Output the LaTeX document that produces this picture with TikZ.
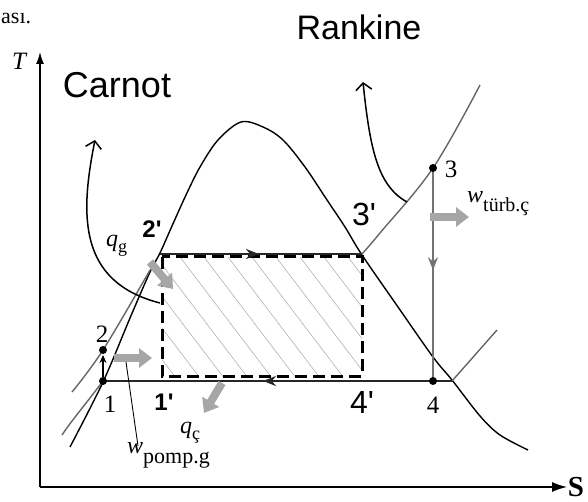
\documentclass[tikz,border=0pt]{standalone}
\usepackage{fontspec}
\setmainfont{Liberation Serif}
\newfontfamily\handfont{Liberation Sans}
\usetikzlibrary{arrows.meta,decorations.markings}
\begin{document}
\begin{tikzpicture}[x=1pt,y=-1pt,
  curve/.style={line width=1.4pt,black},
  iso/.style={line width=1.4pt,black!60},
  cyc/.style={line width=2.6pt,black!85},
  carnotbox/.style={line width=3pt,black,dash pattern=on 12pt off 6pt},
  hatchline/.style={line width=0.6pt,black!30},
  dotnode/.style={circle,fill=black,inner sep=0pt,minimum size=8pt},
  num/.style={font=\fontsize{25}{25}\selectfont,inner sep=0pt},
  handbold/.style={font=\handfont\bfseries\fontsize{24}{24}\selectfont,inner sep=0pt},
  handbig/.style={font=\handfont\fontsize{32}{32}\selectfont,inner sep=0pt},
  fatarrow/.style={line width=8pt,black!35,-{Triangle[length=13pt,width=19pt]}},
  callout/.style={line width=1.5pt,{Straight Barb[length=7pt,width=16pt]}-},
  midarrow/.style={postaction={decorate},decoration={markings,mark=at position #1 with {\arrow{Stealth[length=13pt,width=10pt]}}}},
  lbl/.style={font=\fontsize{24}{24}\selectfont,inner sep=0pt,anchor=base west}
]
\fill[white] (0,0) rectangle (588,502);
\useasboundingbox (0,0) rectangle (588,502);

% coordinates
\coordinate (origin) at (40,487);
\coordinate (tend) at (40,52);
\coordinate (send) at (567,487);
\coordinate (p1) at (103,381);
\coordinate (p2) at (103,350);
\coordinate (p3) at (433,168);
\coordinate (p4) at (433,381);
\coordinate (p2p) at (160,254);
\coordinate (p3p) at (362,254);
\coordinate (d4) at (452,381);
\coordinate (isotop) at (150,270);
\coordinate (isoend) at (72,392);
\coordinate (lowend) at (62,435);
\coordinate (shend) at (480,85);
\coordinate (lpend) at (497,330);

% hatching
\begin{scope}
\clip (162,257) rectangle (362,376);
\foreach \x in {60,84,...,372} \draw[hatchline] (\x,257) -- ++(92,121);
\end{scope}

% axes
\draw[line width=1.4pt,-{Latex[length=12pt,width=8pt]}] (origin) -- (tend);
\draw[line width=1.4pt,-{Latex[length=15pt,width=10pt]}] (origin) -- (send);

% dome
\draw[curve] plot[smooth,tension=0.55] coordinates {(70,447) (103,382) (130,318) (150,272) (160,253) (172,226) (186,195) (200,167) (218,140) (241,122) (263,127) (283,140) (305,167) (327,200) (345,227) (362,255) (398,307) (433,357) (452,380) (480,416) (500,435) (528,450)};

% isobars
\draw[iso] plot[smooth,tension=0.6] coordinates {(isotop) (p2) (isoend)};
\draw[iso] (p1) .. controls (85,405) and (72,420) .. (lowend);
\draw[iso] plot[smooth,tension=0.6] coordinates {(p3p) (380,233) (p3) (shend)};
\draw[iso] (d4) -- (lpend);

% Carnot dashed box
\draw[carnotbox] (162,257) rectangle (362,376);

% cycle lines
\draw[cyc,midarrow=0.49] (p2p) -- (p3p);
\draw[line width=2pt,black!55,midarrow=0.48] (p3) -- (p4);
\draw[cyc] (d4) -- (p4);
\draw[cyc,midarrow=0.515] (p4) -- (p1);
\draw[line width=1.6pt,-{Stealth[length=8pt,width=7pt]},shorten >=5pt,shorten <=4pt] (p1) -- (p2);

% state dots
\node[dotnode] (n1) at (p1) {};
\node[dotnode] (n2) at (p2) {};
\node[dotnode] (n3) at (p3) {};
\node[dotnode] (n4) at (p4) {};

% fat gray arrows
\draw[fatarrow] (150,262) -- (173,289);
\draw[fatarrow] (222,383) -- (204,413);
\draw[fatarrow] (114,358) -- (152,358);
\draw[fatarrow] (430,217) -- (469,217);

% leader for pump work
\coordinate (wpl) at (138,446);
\coordinate (wpa) at (126,362);
\draw[line width=0.9pt] (wpl) -- (wpa);

% callout curves
\coordinate (ctip) at (95,140);
\coordinate (cend) at (160,303);
\draw[callout] (ctip) .. controls (80,215) and (78,282) .. (cend);
\coordinate (rtip) at (363,82);
\coordinate (rend) at (407,202);
\draw[callout] (rtip) .. controls (370,150) and (378,186) .. (rend);

% labels
\node[font=\fontsize{22}{22}\selectfont,inner sep=0pt,anchor=base west] (frag) at (1,24) {ası.};
\node[font=\itshape\fontsize{25}{25}\selectfont,inner sep=0pt] (tl) at (19,61) {T};
\node[font=\bfseries\fontsize{29}{29}\selectfont,inner sep=0pt] (sl) at (576,487) {S};
\node[font=\handfont\fontsize{36}{36}\selectfont,inner sep=0pt] (carnot) at (117,85) {Carnot};
\node[font=\handfont\fontsize{34}{34}\selectfont,inner sep=0pt] (rankine) at (359,27) {Rankine};

\node[num] (l1) at (110,404) {1};
\node[num] (l2) at (102,334) {2};
\node[num] (l3) at (451,169) {3};
\node[num] (l4) at (433,405) {4};
\node[handbold] (l2p) at (152,229) {2'};
\node[handbold] (l1p) at (164,402) {1'};
\node[handbig] (l3p) at (364,214) {3'};
\node[handbig] (l4p) at (362,402) {4'};

\node[lbl] (qg) at (106,247) {\textit{q}\raisebox{-6pt}{\fontsize{18}{18}\selectfont g}};
\node[lbl] (qc) at (180,433) {\textit{q}\raisebox{-6pt}{\fontsize{18}{18}\selectfont ç}};
\node[lbl] (wp) at (127,453) {\textit{w}\raisebox{-10pt}{\fontsize{22}{22}\selectfont pomp.g}};
\node[lbl] (wt) at (467,203) {\textit{w}\raisebox{-9pt}{\fontsize{20}{20}\selectfont türb.ç}};
\end{tikzpicture}
\end{document}
